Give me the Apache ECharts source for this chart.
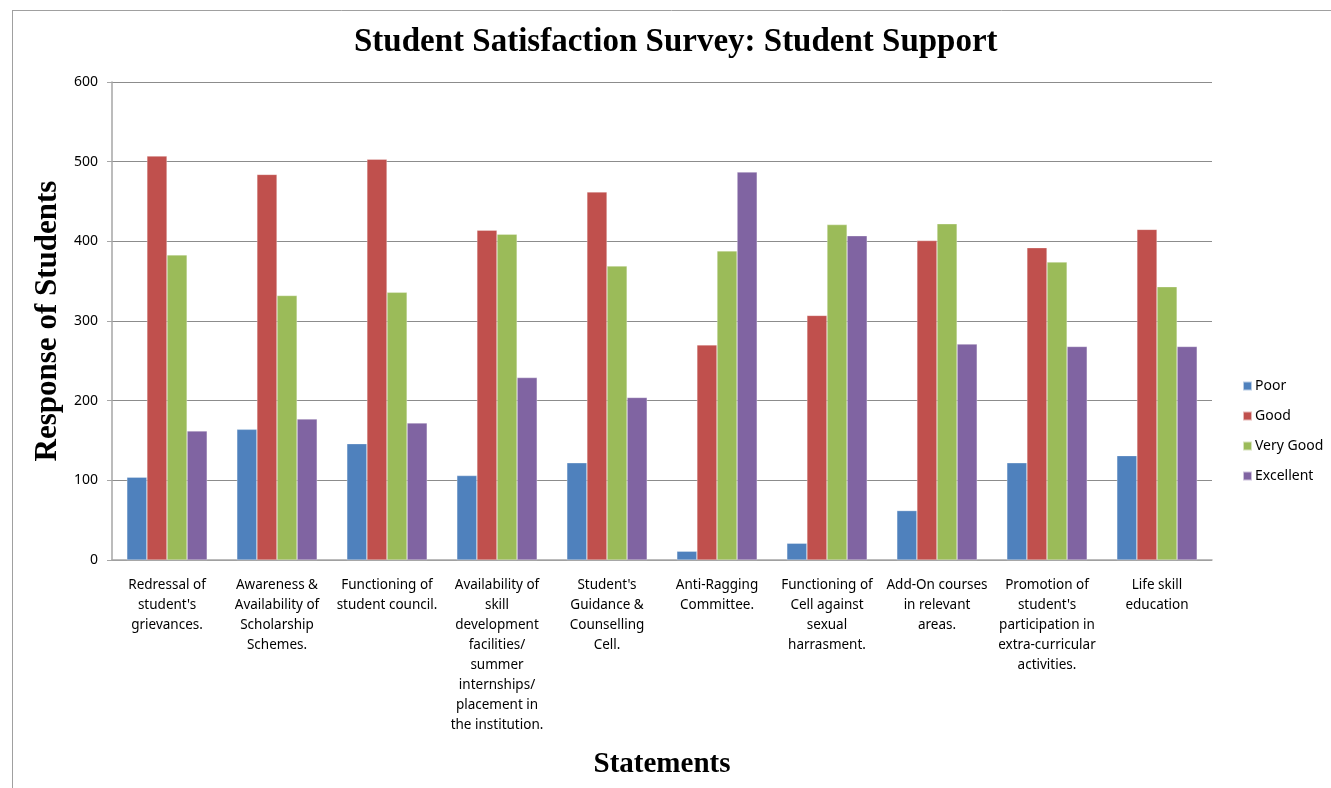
<!DOCTYPE html>
<html>
<head>
<meta charset="utf-8">
<script src="https://cdn.jsdelivr.net/npm/echarts@6/dist/echarts.min.js"></script>
<style>
  html, body { margin: 0; padding: 0; background: #fff; }
  #chart { width: 1331px; height: 788px; }
</style>
</head>
<body>
<div id="chart"></div>
<script>
// Survey statements (x-axis categories), wrapped as they appear under the bars
const categories = [
  "Redressal of\nstudent's\ngrievances.",
  "Awareness &\nAvailability of\nScholarship\nSchemes.",
  "Functioning of\nstudent council.",
  "Availability of\nskill\ndevelopment\nfacilities/\nsummer\ninternships/\nplacement in\nthe institution.",
  "Student's\nGuidance &\nCounselling\nCell.",
  "Anti-Ragging\nCommittee.",
  "Functioning of\nCell against\nsexual\nharrasment.",
  "Add-On courses\nin relevant\nareas.",
  "Promotion of\nstudent's\nparticipation in\nextra-curricular\nactivities.",
  "Life skill\neducation"
];

// Number of responses per rating
const poor      = [104, 164, 146, 106, 122, 11, 21, 62, 122, 131];
const good      = [507, 484, 503, 414, 462, 270, 307, 401, 392, 415];
const veryGood  = [383, 332, 336, 409, 369, 388, 421, 422, 374, 343];
const excellent = [162, 177, 172, 229, 204, 487, 407, 271, 268, 268];

const seriesNames = ["Poor", "Good", "Very Good", "Excellent"];
const seriesColors = ["#4F81BD", "#C0504D", "#9BBB59", "#8064A2"];
const seriesData = [poor, good, veryGood, excellent];

const chart = echarts.init(document.getElementById('chart'));

const labelFont = "'Noto Sans', 'Open Sans', sans-serif";
const serifFont = "'Liberation Serif', 'DejaVu Serif', serif";

chart.setOption({
  animation: false,
  backgroundColor: '#ffffff',
  title: {
    text: 'Student Satisfaction Survey: Student Support',
    left: 349,
    top: 21,
    textStyle: { fontFamily: serifFont, fontWeight: 'bold', fontSize: 33, color: '#000' }
  },
  legend: {
    orient: 'vertical',
    left: 1237,
    top: 374,
    itemWidth: 9,
    itemHeight: 9,
    itemGap: 16,
    icon: 'rect',
    textStyle: { fontFamily: labelFont, fontSize: 14, color: '#000', padding: [0, 0, 0, -2] },
    data: seriesNames
  },
  grid: { left: 112, right: 119, top: 82, bottom: 228, containLabel: false },
  xAxis: {
    type: 'category',
    data: categories,
    name: 'Statements',
    nameLocation: 'middle',
    nameGap: 190,
    nameTextStyle: { fontFamily: serifFont, fontWeight: 'bold', fontSize: 29, color: '#000' },
    axisLine: { lineStyle: { color: '#a6a6a6', width: 1.5 } },
    axisTick: { show: false },
    axisLabel: {
      interval: 0,
      margin: 15,
      fontFamily: labelFont,
      fontSize: 13.5,
      lineHeight: 20,
      color: '#000',
      verticalAlign: 'top'
    }
  },
  yAxis: {
    type: 'value',
    min: 0,
    max: 600,
    interval: 100,
    name: 'Response of Students',
    nameLocation: 'middle',
    nameGap: 48,
    nameTextStyle: { fontFamily: serifFont, fontWeight: 'bold', fontSize: 31, color: '#000' },
    axisLine: { show: true, lineStyle: { color: '#a6a6a6', width: 1.5 } },
    axisTick: { show: true, length: 5, lineStyle: { color: '#a6a6a6' } },
    axisLabel: { fontFamily: labelFont, fontSize: 14, color: '#000', margin: 14 },
    splitLine: { lineStyle: { color: '#8c8c8c', width: 1 } }
  },
  series: seriesNames.map((name, i) => ({
    name: name,
    type: 'bar',
    data: seriesData[i],
    barGap: '0%',
    barCategoryGap: '27%',
    itemStyle: { color: seriesColors[i], borderColor: 'rgba(255,255,255,0.6)', borderWidth: 0.5 }
  })),
  graphic: [
    // outer frame lines at the top and left edge
    { type: 'line', shape: { x1: 12, y1: 10.5, x2: 1331, y2: 10.5 }, style: { stroke: '#a0a0a0', lineWidth: 1 } },
    { type: 'line', shape: { x1: 12.5, y1: 10, x2: 12.5, y2: 788 }, style: { stroke: '#a0a0a0', lineWidth: 1 } }
  ]
});
</script>
</body>
</html>
